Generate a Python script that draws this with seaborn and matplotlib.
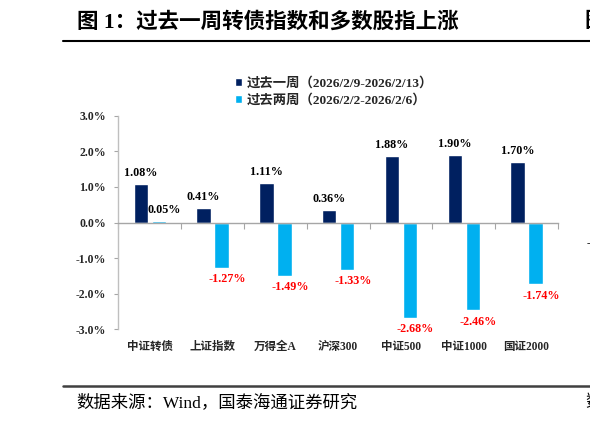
import matplotlib
matplotlib.use('Agg')
import matplotlib.pyplot as plt
from matplotlib.lines import Line2D
from matplotlib.ticker import FixedLocator, FuncFormatter
import seaborn as sns
import pandas as pd

categories = ['中证转债', '上证指数', '万得全A', '沪深300', '中证500', '中证1000', '国证2000']
week1 = [1.08, 0.41, 1.11, 0.36, 1.88, 1.90, 1.70]
week2 = [0.05, -1.27, -1.49, -1.33, -2.68, -2.46, -1.74]
series = ['过去一周（2026/2/9-2026/2/13）', '过去两周（2026/2/2-2026/2/6）']
colors = ['#002060', '#00B0F0']
yticks = [-3, -2, -1, 0, 1, 2, 3]
title = '图 1：过去一周转债指数和多数股指上涨'
source = '数据来源：Wind，国泰海通证券研究'

sns.set_theme(style='white')
FAM = ['Liberation Serif', 'Noto Sans CJK SC', 'DejaVu Sans']
plt.rcParams['font.family'] = FAM

df = pd.DataFrame({
    'cat': categories * 2,
    'val': week1 + week2,
    'series': [series[0]] * len(categories) + [series[1]] * len(categories),
})

W, H = 590, 423
fig = plt.figure(figsize=(W / 100, H / 100), dpi=100)
fig.patch.set_facecolor('white')
ax = fig.add_axes([118.4 / W, 1 - 329.3 / H, (558 - 118.4) / W, (329.3 - 115.7) / H])

sns.barplot(data=df, x='cat', y='val', hue='series', palette=colors,
            width=0.57, gap=0.2, ax=ax, saturation=1)

ax.set_xlim(-0.5, len(categories) - 0.5)
ax.set_ylim(-3, 3)
ax.set_xlabel('')
ax.set_ylabel('')

# spines
for s in ['top', 'right']:
    ax.spines[s].set_visible(False)
ax.spines['left'].set_color('#BFBFBF')
ax.spines['left'].set_linewidth(1.0)
ax.spines['bottom'].set_position(('data', 0))
ax.spines['bottom'].set_color('#A6A6A6')
ax.spines['bottom'].set_linewidth(1.0)

# y axis
ax.yaxis.set_major_locator(FixedLocator(yticks))
ax.yaxis.set_major_formatter(FuncFormatter(lambda v, p: f'{v:.1f}%'))
ax.tick_params(axis='y', which='major', direction='out', length=3, width=0.8,
               color='#A6A6A6', pad=6, labelsize=8.5, left=True)
for t in ax.get_yticklabels():
    t.set_fontweight('bold')
    t.set_family(FAM)

# x axis: labels at bottom of plot, boundary ticks on zero line
ax.set_xticks(range(len(categories)))
ax.set_xticklabels(categories)
ax.tick_params(axis='x', which='major', length=0, pad=85, labelsize=8.3)
ax.set_xticks([i - 0.5 for i in range(len(categories) + 1)], minor=True)
ax.tick_params(axis='x', which='minor', direction='out', length=4, width=0.8,
               color='#A6A6A6', bottom=True)
for t in ax.get_xticklabels():
    t.set_fontweight('bold')
    t.set_family(FAM)

# value labels
vals = [week1, week2]
for si, cont in enumerate(ax.containers):
    for bar, v in zip(cont, vals[si]):
        x = bar.get_x() + bar.get_width() / 2
        dx = 0 if si == 0 else 4
        if v >= 0:
            ax.annotate(f'{v:.2f}%', xy=(x, v), xytext=(dx, 3.5), textcoords='offset points',
                        ha='center', va='bottom', fontsize=8.7, fontweight='bold',
                        color='black', family=FAM)
        else:
            ax.annotate(f'{v:.2f}%', xy=(x, v), xytext=(dx, -4), textcoords='offset points',
                        ha='center', va='top', fontsize=8.7, fontweight='bold',
                        color='#FF0000', family=FAM)

# legend
handles, labels = ax.get_legend_handles_labels()
if ax.get_legend() is not None:
    ax.get_legend().remove()
fig.legend(handles, labels, loc='upper left', bbox_to_anchor=(235.0 / W, 1 - 77 / H),
           frameon=False, borderpad=0, borderaxespad=0, handlelength=0.55, handleheight=0.55,
           handletextpad=0.35, labelspacing=0.28, prop={'family': FAM, 'size': 9.6, 'weight': 'bold'})

# title and source
fig.text(77 / W, 1 - 22 / H, title, ha='left', va='center', fontsize=15.5, fontweight='bold',
         family=FAM, color='black')
fig.add_artist(Line2D([63 / W, 1.0], [1 - 41 / H, 1 - 41 / H], transform=fig.transFigure,
                      color='black', lw=1.5))
fig.add_artist(Line2D([63 / W, 1.0], [1 - 385.5 / H, 1 - 385.5 / H], transform=fig.transFigure,
                      color='#404040', lw=1.8))
fig.text(76 / W, 1 - 403 / H, source, ha='left', va='center', fontsize=12.5,
         family=FAM, color='black')

# cut-off fragments at right edge (neighbouring figure)
fig.text(584 / W, 1 - 22 / H, '图', ha='left', va='center', fontsize=15.5, fontweight='bold',
         family=FAM, color='black')
fig.text(587 / W, 1 - 243 / H, '-1.0%', ha='left', va='center', fontsize=8.5, fontweight='bold',
         family=FAM, color='black')
fig.text(585 / W, 1 - 403 / H, '数', ha='left', va='center', fontsize=12.5,
         family=FAM, color='black')

fig.savefig('out.png', dpi=100, facecolor='white')
